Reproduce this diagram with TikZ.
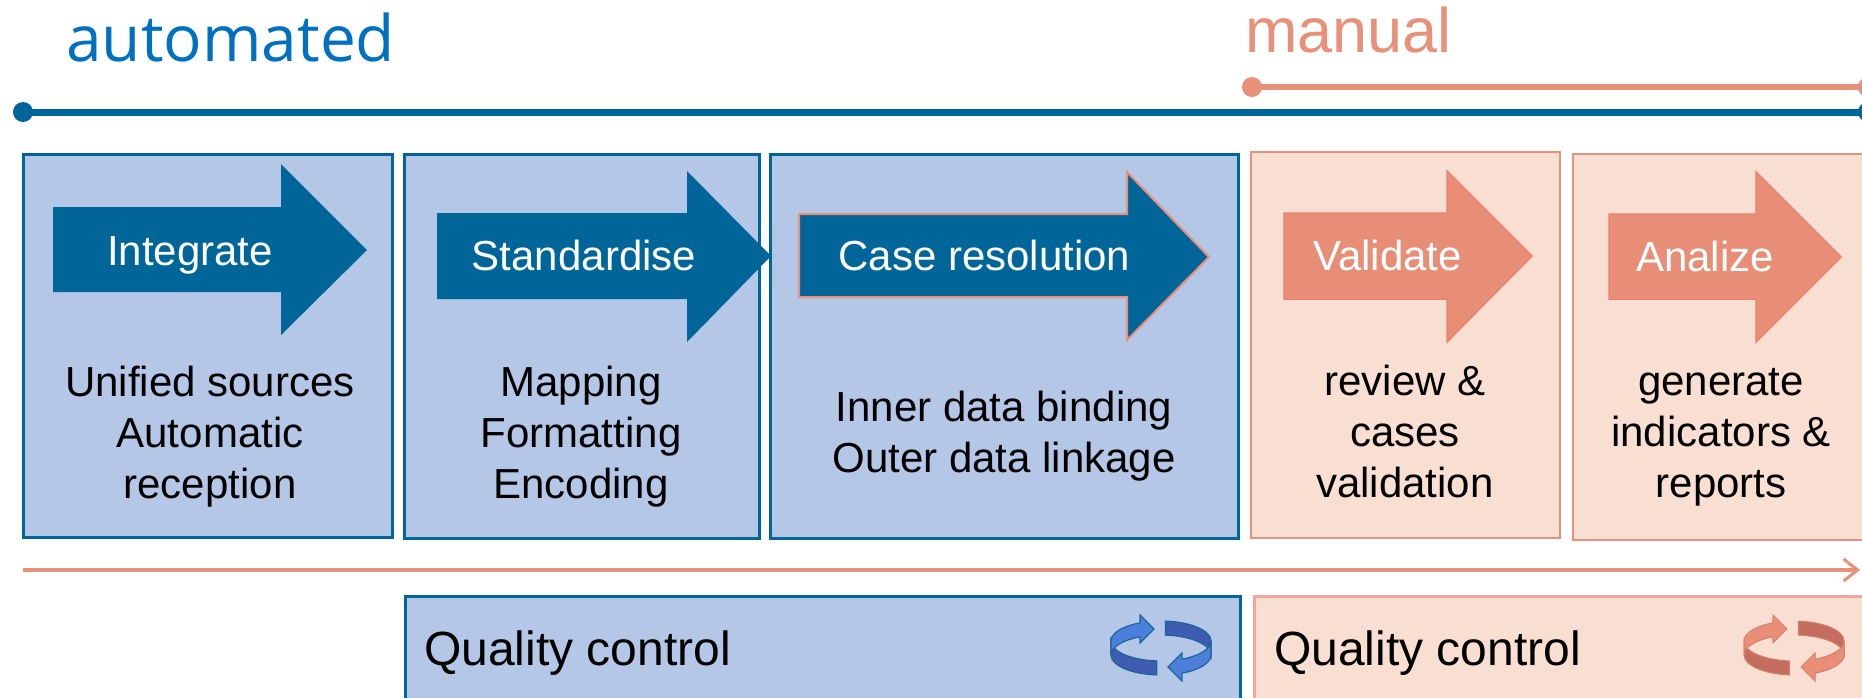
\documentclass[tikz,border=0pt]{standalone}
\usepackage{fontspec}
\setmainfont{Liberation Sans}
\newfontfamily\autofont{Open Sans}
\usetikzlibrary{arrows.meta}
\definecolor{boxblue}{HTML}{B4C7E7}
\definecolor{bborder}{HTML}{00669A}
\definecolor{arrowblue}{HTML}{006699}
\definecolor{boxora}{HTML}{F9DFD1}
\definecolor{oborder}{HTML}{E8907A}
\definecolor{arrowora}{HTML}{E88E77}
\definecolor{arroworaline}{HTML}{EC8270}
\definecolor{autoblue}{HTML}{0070C0}
\definecolor{qcora}{HTML}{F4A49A}
\definecolor{icbl}{HTML}{4A80DC}
\definecolor{icbd}{HTML}{3D5CB2}
\definecolor{icbo}{HTML}{1B6496}
\definecolor{icol}{HTML}{EA8E78}
\definecolor{icod}{HTML}{C46C5E}
\tikzset{
  bluebox/.style={draw=bborder, fill=boxblue, line width=3pt, inner sep=0pt},
  orabox/.style={draw=oborder, fill=boxora, line width=2.5pt, inner sep=0pt},
  qcorabox/.style={draw=qcora, fill=boxora, line width=2.5pt, inner sep=0pt},
  barrow/.style={fill=arrowblue},
  oarrow/.style={fill=arrowora, draw=arroworaline, line width=1.5pt, line join=miter},
  lbl/.style={text=white, font=\fontsize{42}{50}\selectfont, anchor=base, inner sep=0pt},
  body/.style={font=\fontsize{42}{51}\selectfont, align=center, anchor=base, inner sep=0pt},
  qctext/.style={font=\fontsize{48}{56}\selectfont, anchor=base west, inner sep=0pt},
  bdot/.style={circle, fill=arrowblue, minimum size=20pt, inner sep=0pt},
  odot/.style={circle, fill=oborder, minimum size=20pt, inner sep=0pt},
  icl/.style={fill=icbl, draw=icbo, line width=1.2pt},
  icd/.style={fill=icbd, draw=icbo, line width=1.2pt},
  refresh/.pic={
    \begin{scope}[yscale=-1]
      \foreach \r in {0,180}{
        \begin{scope}[rotate=\r]
          \path[icd] (-50,7) arc[start angle=180, end angle=265, x radius=50, y radius=20]
            -- (-4.36,-26.92) arc[start angle=265, end angle=180, x radius=50, y radius=20] -- cycle;
          \path[icl] (-50,-7) arc[start angle=180, end angle=115, x radius=50, y radius=20]
            -- (-21,5) -- (-7,19) -- (-21,33) -- (-21.13,25.13)
            arc[start angle=115, end angle=180, x radius=50, y radius=20] -- cycle;
        \end{scope}
      }
    \end{scope}
  }
}
\begin{document}
\begin{tikzpicture}[x=1pt, y=-1pt]
\useasboundingbox (0,0) rectangle (1862,697);

% headings
\node[anchor=base west, inner sep=0pt, text=autoblue, font=\autofont\fontsize{64}{70}\selectfont] (auto) at (66,61) {automated};
\node[anchor=base west, inner sep=0pt, text=oborder, font=\fontsize{63}{70}\selectfont] (man) at (1245,52) {manual};

% timeline
\node[bdot] (bl) at (23,112) {};
\node[bdot] (br) at (1868,112) {};
\draw[arrowblue, line width=7pt] (bl.center) -- (br.center);
\node[odot] (ol) at (1252,87) {};
\node[odot] (or) at (1868,87) {};
\draw[oborder, line width=6.5pt] (ol.center) -- (or.center);

% step boxes
\node[bluebox, minimum width=369pt, minimum height=383pt] (box1) at (207.5,345.5) {};
\node[bluebox, minimum width=355pt, minimum height=384pt] (box2) at (581.5,346) {};
\node[bluebox, minimum width=468pt, minimum height=384pt] (box3) at (1004,346) {};
\node[orabox, minimum width=309pt, minimum height=386pt] (box4) at (1405.5,345) {};
\node[orabox, minimum width=297pt, minimum height=386pt] (box5) at (1721.5,347) {};

% block arrows
\fill[barrow] (53,207) -- (281,207) -- (281,164) -- (367,250) -- (281,335) -- (281,292) -- (53,292) -- cycle;
\fill[barrow] (437,213) -- (687,213) -- (687,171) -- (771,256) -- (687,342) -- (687,299) -- (437,299) -- cycle;
\path[barrow, draw=oborder, line width=2pt] (799,214) -- (1127,214) -- (1127,172) -- (1209,257) -- (1127,340) -- (1127,297) -- (799,297) -- cycle;
\path[oarrow] (1284,213) -- (1447,213) -- (1447,171) -- (1532,256) -- (1447,342) -- (1447,299) -- (1284,299) -- cycle;
\path[oarrow] (1609,214) -- (1756,214) -- (1756,172) -- (1841,257) -- (1756,342) -- (1756,299) -- (1609,299) -- cycle;

\node[lbl] (l1) at (190,265) {Integrate};
\node[lbl] (l2) at (584,270) {Standardise};
\node[lbl] (l3) at (984.5,270) {Case resolution};
\node[lbl] (l4) at (1387.5,270) {Validate};
\node[lbl] (l5) at (1705,271) {Analize};

% descriptions (anchor = baseline of last line)
\node[body] (d1) at (210,498) {Unified sources\\Automatic\\reception};
\node[body] (d2) at (581,498) {Mapping\\Formatting\\Encoding};
\node[body] (d3) at (1004,472) {Inner data binding\\Outer data linkage};
\node[body] (d4) at (1405,497) {review \&\\cases\\validation};
\node[body] (d5) at (1721,497) {generate\\indicators \&\\reports};

% process arrow
\coordinate (pa) at (23,570);
\coordinate (pb) at (1860,570);
\draw[oborder, line width=4pt, -{Straight Barb[length=14pt, width=22pt, line width=3pt]}] (pa) -- (pb);

% quality control
\node[bluebox, minimum width=835pt, minimum height=120pt, anchor=north west] (qc1) at (404,595) {};
\node[qcorabox, minimum width=620pt, minimum height=120pt, anchor=north west] (qc2) at (1253,595) {};
\node[qctext] (q1) at (424,665) {Quality control};
\node[qctext] (q2) at (1274,665) {Quality control};
\pic at (1161,648) {refresh};
\pic[icl/.style={fill=icol, draw=icol!90!black, line width=1pt}, icd/.style={fill=icod, draw=icol!90!black, line width=1pt}] at (1794,648) {refresh};
\end{tikzpicture}
\end{document}
